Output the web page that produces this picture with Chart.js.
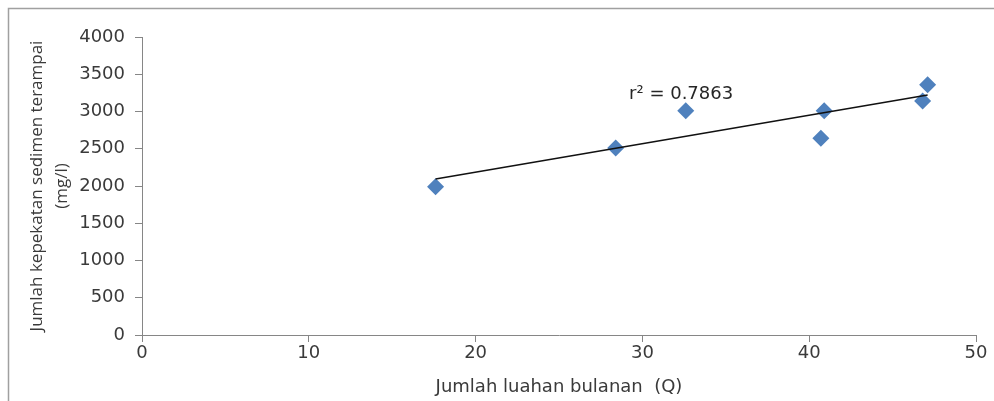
<!DOCTYPE html>
<html>
<head>
<meta charset="utf-8">
<script src="https://cdn.jsdelivr.net/npm/chart.js@4.4.1/dist/chart.umd.min.js"></script>
<style>
  html, body { margin: 0; padding: 0; background: #ffffff; }
  #wrap { width: 994px; height: 401px; position: relative; }
</style>
</head>
<body>
<div id="wrap"><canvas id="c" width="994" height="401"></canvas></div>
<script>
// Data
const xValues = [17.6, 28.4, 32.6, 40.7, 40.9, 46.8, 47.1];
const yValues = [1990, 2510, 3010, 2640, 3010, 3140, 3360];
// Trendline end points (as drawn in the reference)
const trendX = [17.6, 47.1];
const trendY = [2094, 3222];
const r2Label = 'r\u00B2 = 0.7863';
const xTitle = 'Jumlah luahan bulanan  (Q)';
const yTitle = ['Jumlah kepekatan sedimen terampai', '(mg/l)'];

const FONT = 'DejaVu Sans';
const TXT = '#3a3a3a';
const AX = '#868686';

const framePlugin = {
  id: 'frame',
  beforeDraw(chart) {
    const ctx = chart.ctx;
    ctx.save();
    ctx.fillStyle = '#ffffff';
    ctx.fillRect(0, 0, chart.width, chart.height);
    ctx.strokeStyle = '#a0a0a0';
    ctx.lineWidth = 1.5;
    ctx.beginPath();
    ctx.moveTo(8.5, chart.height);
    ctx.lineTo(8.5, 8.5);
    ctx.lineTo(chart.width, 8.5);
    ctx.stroke();
    ctx.restore();
  },
  afterDatasetsDraw(chart) {
    const ctx = chart.ctx;
    const xs = chart.scales.x, ys = chart.scales.y;
    ctx.save();
    ctx.fillStyle = '#262626';
    ctx.font = '18px "' + FONT + '"';
    ctx.textAlign = 'left';
    ctx.textBaseline = 'middle';
    ctx.fillText(r2Label, xs.getPixelForValue(29.2), ys.getPixelForValue(3225));
    ctx.restore();
  }
};

new Chart(document.getElementById('c'), {
  type: 'scatter',
  data: {
    datasets: [
      {
        label: 'data',
        data: xValues.map((x, i) => ({ x: x, y: yValues[i] })),
        pointStyle: 'rectRot',
        pointRadius: 8.5,
        pointHoverRadius: 8.5,
        backgroundColor: '#4f81bd',
        borderColor: '#4f81bd',
        borderWidth: 0,
        order: 2
      },
      {
        label: 'trend',
        type: 'line',
        data: trendX.map((x, i) => ({ x: x, y: trendY[i] })),
        borderColor: '#111111',
        borderWidth: 1.5,
        pointRadius: 0,
        fill: false,
        order: 1
      }
    ]
  },
  options: {
    responsive: false,
    animation: false,
    events: [],
    layout: { padding: { left: 0, top: 37, right: 18, bottom: 0 } },
    plugins: {
      legend: { display: false },
      tooltip: { enabled: false }
    },
    scales: {
      x: {
        type: 'linear',
        min: 0, max: 50,
        ticks: { stepSize: 10, color: TXT, font: { family: FONT, size: 18 }, padding: 1,
                 callback: (v) => String(v) },
        grid: { display: true, drawOnChartArea: false, drawTicks: true, tickLength: 7, color: AX },
        border: { display: true, color: AX, width: 1 },
        title: { display: true, text: xTitle, color: TXT, font: { family: FONT, size: 18 }, padding: { top: 0, bottom: 3 } },
        afterFit(scale) { scale.height = 66; }
      },
      y: {
        type: 'linear',
        min: 0, max: 4000,
        ticks: { stepSize: 500, color: TXT, font: { family: FONT, size: 18 }, padding: 10,
                 callback: (v) => String(v) },
        grid: { display: true, drawOnChartArea: false, drawTicks: true, tickLength: 7, color: AX },
        border: { display: true, color: AX, width: 1 },
        title: { display: true, text: yTitle, color: TXT, font: { family: 'Open Sans', size: 17, lineHeight: 1.5 }, padding: { top: 24, bottom: 0 } },
        afterFit(scale) { scale.width = 142; }
      }
    }
  },
  plugins: [framePlugin]
});
</script>
</body>
</html>
